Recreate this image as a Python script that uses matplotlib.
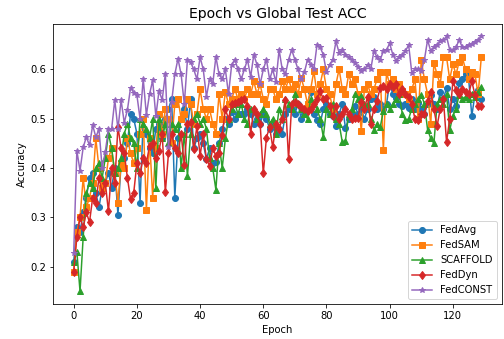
import matplotlib
matplotlib.use("Agg")
import matplotlib.pyplot as plt

epochs = list(range(130))

fedavg = [
    0.21, 0.28, 0.27, 0.31, 0.34, 0.38, 0.39, 0.35, 0.32, 0.36,
    0.37, 0.39, 0.36, 0.40, 0.305, 0.41, 0.42, 0.45, 0.51, 0.50,
    0.47, 0.33, 0.50, 0.47, 0.44, 0.43, 0.48, 0.49, 0.46, 0.50,
    0.52, 0.54, 0.34, 0.46, 0.50, 0.52, 0.48, 0.54, 0.44, 0.46,
    0.47, 0.45, 0.418, 0.44, 0.41, 0.413, 0.45, 0.48, 0.50, 0.49,
    0.514, 0.50, 0.51, 0.51, 0.51, 0.52, 0.51, 0.49, 0.50, 0.49,
    0.51, 0.50, 0.48, 0.49, 0.47, 0.48, 0.47, 0.51, 0.52, 0.52,
    0.51, 0.53, 0.50, 0.51, 0.53, 0.555, 0.51, 0.498, 0.49, 0.52,
    0.53, 0.51, 0.506, 0.485, 0.51, 0.53, 0.481, 0.50, 0.51, 0.525,
    0.51, 0.52, 0.50, 0.52, 0.54, 0.545, 0.52, 0.53, 0.52, 0.53,
    0.573, 0.55, 0.543, 0.53, 0.525, 0.53, 0.521, 0.54, 0.52, 0.532,
    0.52, 0.51, 0.53, 0.549, 0.53, 0.52, 0.555, 0.54, 0.563, 0.52,
    0.54, 0.525, 0.573, 0.58, 0.59, 0.58, 0.506, 0.55, 0.559, 0.54,
]

fedsam = [
    0.19, 0.27, 0.30, 0.38, 0.32, 0.34, 0.37, 0.46, 0.40, 0.36,
    0.37, 0.42, 0.44, 0.39, 0.33, 0.41, 0.40, 0.46, 0.43, 0.41,
    0.44, 0.47, 0.50, 0.315, 0.46, 0.34, 0.44, 0.51, 0.47, 0.52,
    0.50, 0.45, 0.53, 0.54, 0.50, 0.51, 0.54, 0.53, 0.49, 0.51,
    0.56, 0.52, 0.50, 0.52, 0.49, 0.47, 0.55, 0.50, 0.555, 0.53,
    0.54, 0.56, 0.54, 0.55, 0.54, 0.56, 0.55, 0.576, 0.55, 0.57,
    0.54, 0.53, 0.56, 0.56, 0.54, 0.55, 0.576, 0.56, 0.58, 0.56,
    0.57, 0.55, 0.583, 0.56, 0.53, 0.56, 0.597, 0.55, 0.57, 0.60,
    0.56, 0.55, 0.52, 0.57, 0.601, 0.56, 0.55, 0.59, 0.57, 0.58,
    0.55, 0.475, 0.56, 0.57, 0.55, 0.56, 0.58, 0.594, 0.437, 0.594,
    0.57, 0.58, 0.56, 0.57, 0.556, 0.55, 0.54, 0.56, 0.58, 0.50,
    0.619, 0.58, 0.55, 0.489, 0.613, 0.59, 0.57, 0.625, 0.625, 0.58,
    0.611, 0.59, 0.616, 0.625, 0.60, 0.58, 0.594, 0.59, 0.55, 0.625,
]

scaffold = [
    0.21, 0.23, 0.15, 0.26, 0.35, 0.37, 0.36, 0.40, 0.41, 0.38,
    0.42, 0.47, 0.44, 0.39, 0.40, 0.42, 0.47, 0.49, 0.46, 0.45,
    0.40, 0.50, 0.49, 0.48, 0.46, 0.50, 0.36, 0.50, 0.46, 0.49,
    0.45, 0.49, 0.48, 0.49, 0.40, 0.47, 0.384, 0.47, 0.50, 0.51,
    0.49, 0.50, 0.48, 0.42, 0.40, 0.356, 0.45, 0.40, 0.46, 0.50,
    0.52, 0.53, 0.51, 0.53, 0.50, 0.49, 0.52, 0.52, 0.50, 0.51,
    0.52, 0.51, 0.49, 0.50, 0.47, 0.52, 0.50, 0.54, 0.53, 0.52,
    0.55, 0.53, 0.52, 0.51, 0.50, 0.54, 0.53, 0.52, 0.50, 0.463,
    0.52, 0.51, 0.53, 0.50, 0.49, 0.453, 0.455, 0.51, 0.52, 0.55,
    0.54, 0.547, 0.53, 0.53, 0.50, 0.477, 0.49, 0.483, 0.515, 0.53,
    0.52, 0.53, 0.54, 0.55, 0.51, 0.497, 0.50, 0.52, 0.53, 0.54,
    0.549, 0.53, 0.478, 0.46, 0.45, 0.53, 0.54, 0.53, 0.55, 0.477,
    0.506, 0.52, 0.549, 0.54, 0.545, 0.54, 0.55, 0.545, 0.555, 0.564,
]

feddyn = [
    0.19, 0.26, 0.30, 0.28, 0.31, 0.29, 0.34, 0.33, 0.38, 0.35,
    0.37, 0.312, 0.40, 0.37, 0.484, 0.44, 0.43, 0.38, 0.337, 0.35,
    0.41, 0.39, 0.42, 0.41, 0.445, 0.45, 0.42, 0.435, 0.47, 0.351,
    0.43, 0.47, 0.44, 0.43, 0.47, 0.406, 0.489, 0.493, 0.438, 0.485,
    0.425, 0.47, 0.418, 0.405, 0.44, 0.425, 0.43, 0.467, 0.519, 0.50,
    0.529, 0.532, 0.535, 0.538, 0.54, 0.525, 0.47, 0.52, 0.51, 0.49,
    0.389, 0.462, 0.483, 0.442, 0.49, 0.48, 0.50, 0.538, 0.418, 0.53,
    0.535, 0.53, 0.523, 0.52, 0.515, 0.52, 0.53, 0.54, 0.556, 0.54,
    0.543, 0.525, 0.505, 0.525, 0.499, 0.51, 0.52, 0.51, 0.50, 0.502,
    0.502, 0.535, 0.52, 0.545, 0.49, 0.52, 0.537, 0.563, 0.566, 0.56,
    0.57, 0.565, 0.57, 0.55, 0.56, 0.55, 0.545, 0.53, 0.50, 0.497,
    0.51, 0.51, 0.537, 0.554, 0.52, 0.485, 0.52, 0.54, 0.453, 0.50,
    0.576, 0.559, 0.55, 0.56, 0.555, 0.55, 0.576, 0.548, 0.525, 0.525,
]

fedconst = [
    0.228, 0.435, 0.395, 0.442, 0.463, 0.446, 0.487, 0.463, 0.479, 0.40,
    0.433, 0.479, 0.479, 0.538, 0.479, 0.538, 0.492, 0.518, 0.563, 0.553,
    0.548, 0.50, 0.581, 0.508, 0.55, 0.578, 0.505, 0.557, 0.538, 0.591,
    0.442, 0.535, 0.59, 0.622, 0.59, 0.53, 0.62, 0.615, 0.60, 0.58,
    0.625, 0.60, 0.545, 0.58, 0.57, 0.626, 0.59, 0.58, 0.60, 0.55,
    0.61, 0.62, 0.60, 0.58, 0.60, 0.62, 0.585, 0.63, 0.61, 0.57,
    0.60, 0.62, 0.58, 0.60, 0.574, 0.64, 0.60, 0.59, 0.62, 0.64,
    0.62, 0.60, 0.58, 0.594, 0.62, 0.61, 0.60, 0.65, 0.645, 0.63,
    0.594, 0.61, 0.62, 0.657, 0.634, 0.64, 0.63, 0.625, 0.62, 0.614,
    0.605, 0.597, 0.60, 0.61, 0.60, 0.637, 0.625, 0.62, 0.637, 0.64,
    0.653, 0.63, 0.618, 0.625, 0.63, 0.637, 0.65, 0.593, 0.60, 0.60,
    0.597, 0.62, 0.66, 0.637, 0.645, 0.65, 0.657, 0.66, 0.667, 0.64,
    0.64, 0.645, 0.66, 0.645, 0.645, 0.65, 0.652, 0.655, 0.66, 0.667,
]

series = [
    ("FedAvg", fedavg, "o"),
    ("FedSAM", fedsam, "s"),
    ("SCAFFOLD", scaffold, "^"),
    ("FedDyn", feddyn, "d"),
    ("FedCONST", fedconst, "*"),
]

fig = plt.figure(figsize=(7.0, 339 / 72), dpi=72)
ax = fig.add_axes([0.1058, 0.1032, 0.8896, 0.8268])

for name, vals, mk in series:
    ax.plot(epochs, vals, marker=mk, label=name)

ax.set_title("Epoch vs Global Test ACC", fontsize=14)
ax.set_xlabel("Epoch")
ax.set_ylabel("Accuracy")
ax.legend(loc="lower right")

fig.savefig("out.png", dpi=72)
